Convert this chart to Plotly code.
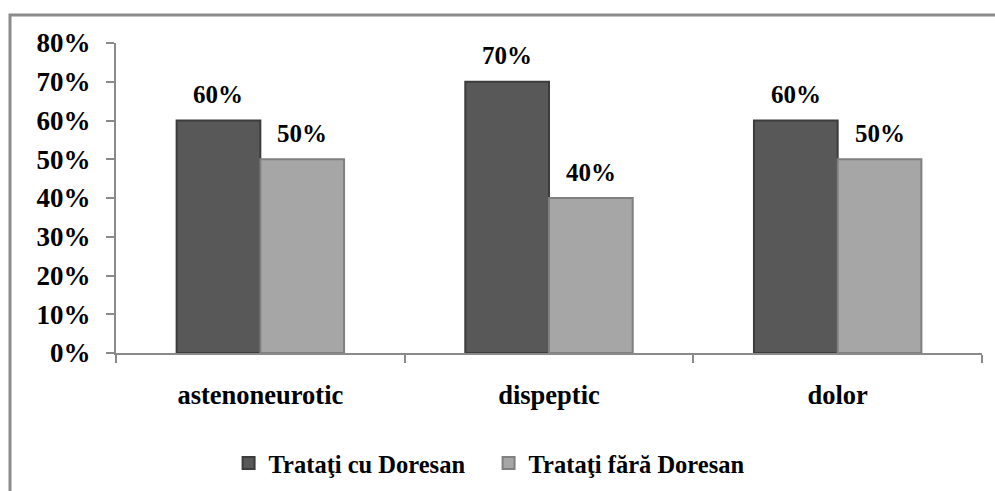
import plotly.graph_objects as go

# Data
categories = ["astenoneurotic", "dispeptic", "dolor"]
series_names = ["Trataţi cu Doresan", "Trataţi fără Doresan"]
with_doresan = [60, 70, 60]
without_doresan = [50, 40, 50]
y_ticks = [0, 10, 20, 30, 40, 50, 60, 70, 80]
y_tick_labels = [f"{t}%" for t in y_ticks]

FONT = "Liberation Serif, Times New Roman, serif"
DARK = "#585858"
DARK_EDGE = "#3c3c3c"
LIGHT = "#a6a6a6"
LIGHT_EDGE = "#808080"
AXIS = "#8a8a8a"

fig = go.Figure()
fig.add_trace(go.Bar(
    x=categories, y=with_doresan, name=series_names[0],
    marker=dict(color=DARK, line=dict(color=DARK_EDGE, width=2)),
))
fig.add_trace(go.Bar(
    x=categories, y=without_doresan, name=series_names[1],
    marker=dict(color=LIGHT, line=dict(color=LIGHT_EDGE, width=2)),
))

# value labels above each bar
annotations = []
for vals, shift in ((with_doresan, -42), (without_doresan, 42)):
    for c, v in zip(categories, vals):
        annotations.append(dict(
            x=c, y=v, xref="x", yref="y", text=f"<b>{v}%</b>",
            showarrow=False, xshift=shift, yshift=26, yanchor="middle",
            font=dict(family=FONT, size=25, color="black"),
        ))

fig.update_layout(
    width=995, height=491,
    margin=dict(l=116, r=13, t=43, b=138, autoexpand=False),
    paper_bgcolor="white", plot_bgcolor="white",
    barmode="group", bargap=0.42, bargroupgap=0,
    font=dict(family=FONT, size=24, color="black"),
    showlegend=True,
    legend=dict(
        orientation="h", x=0.13, xanchor="left", y=-0.355, yanchor="middle",
        entrywidth=215, entrywidthmode="pixels",
        font=dict(family=FONT, size=24.5, color="black", weight="bold"),
        bgcolor="rgba(0,0,0,0)",
    ),
    annotations=annotations,
    shapes=[dict(
        type="rect", xref="paper", yref="paper",
        x0=-0.1224, x1=1.1, y0=-0.6, y1=1.0903,
        line=dict(color="#8c8c8c", width=3), fillcolor="rgba(0,0,0,0)",
        layer="below",
    )],
)

fig.update_xaxes(
    showline=True, linecolor=AXIS, linewidth=2, automargin=False,
    ticks="outside", tickson="boundaries", ticklen=8, tickwidth=2, tickcolor=AXIS,
    tickfont=dict(family=FONT, size=26.5, color="black", weight="bold"),
    ticklabelstandoff=17, showgrid=False,
)
fig.update_yaxes(
    range=[0, 80], tickvals=y_ticks, ticktext=y_tick_labels, automargin=False,
    showline=True, linecolor=AXIS, linewidth=2,
    ticks="outside", ticklen=8, tickwidth=2, tickcolor=AXIS,
    tickfont=dict(family=FONT, size=27, color="black", weight="bold"),
    ticklabelstandoff=10, showgrid=False, zeroline=False,
)

fig.write_html("out.html")
